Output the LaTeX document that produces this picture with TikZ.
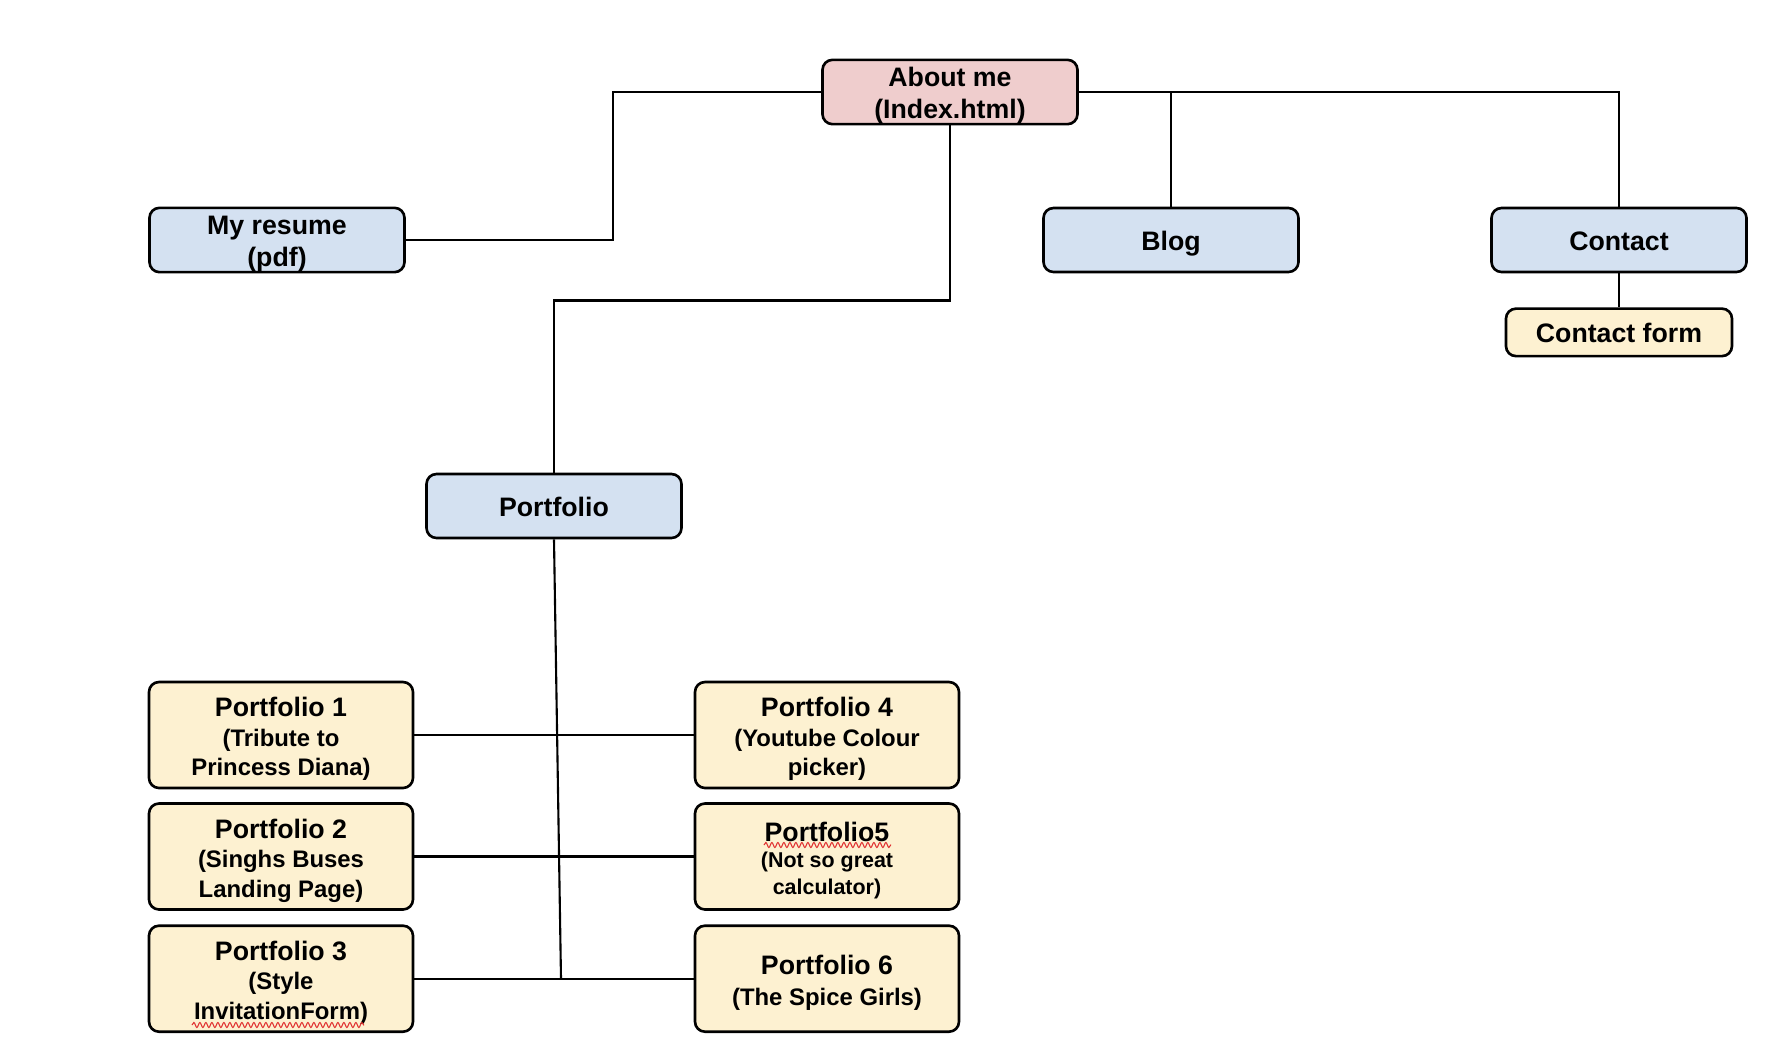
\documentclass[tikz,border=0pt]{standalone}
\usepackage{fontspec}
\setmainfont{Liberation Sans}
\usepackage{xcolor}
\usepackage{tikz}
\usetikzlibrary{positioning, decorations.pathmorphing}
\definecolor{colorHome}{HTML}{EFCDCD}
\definecolor{colorPage}{HTML}{D4E1F1}
\definecolor{colorSub}{HTML}{FDF1D1}
\definecolor{colorSpell}{HTML}{E03030}

\tikzset{
    pagebox/.style={draw=black, line width=0.75pt, rounded corners=0.1cm, align=center,
        minimum width=2.55cm, minimum height=0.64cm, inner xsep=1pt, inner ysep=0pt,
        font=\bfseries\fontsize{7.6}{9}\selectfont},
    homebox/.style={pagebox, fill=colorHome},
    menubox/.style={pagebox, fill=colorPage},
    workbox/.style={pagebox, fill=colorSub, minimum width=2.64cm, minimum height=1.06cm,
        font=\bfseries\fontsize{6.8}{8.4}\selectfont},
    link/.style={draw=black, line width=0.6pt},
    spell/.style={draw=colorSpell, line width=0.3pt,
        decorate, decoration={snake, amplitude=0.25mm, segment length=0.6mm}}
}
\newcommand{\pftitle}[1]{{\fontsize{7.6}{8.4}\selectfont #1}}
\newcommand{\boxtop}{\rule{0pt}{8.05pt}}
\newcommand{\worktop}{\rule{0pt}{8.7pt}}
\newcommand{\boxbot}{\rule[-2.3pt]{0pt}{0pt}}
\newcommand{\twotop}{\rule{0pt}{7.6pt}}
\newcommand{\twobot}{\rule[-1.7pt]{0pt}{0pt}}

\begin{document}
\begin{tikzpicture}
        \useasboundingbox (0,0) rectangle (17.74,-10.62);

        % top level pages
        \node[homebox] (about) at (9.50,-0.92) {\twotop About me\\(Index.html)\twobot};
        \node[menubox] (resume) at (2.77,-2.40) {\twotop My resume\\(pdf)\twobot};
        \node[menubox] (blog) at (11.71,-2.40) {\boxtop Blog\boxbot};
        \node[menubox] (contact) at (16.19,-2.40) {\boxtop Contact\boxbot};
        \node[pagebox, fill=colorSub, minimum width=2.26cm, minimum height=0.475cm,
            below=0.34cm of contact] (cform) {\boxtop Contact form\boxbot};
        \node[menubox] (portfolio) at (5.54,-5.06) {\boxtop Portfolio\boxbot};

        % portfolio pieces
        \node[workbox] (p1) at (2.81,-7.35) {\worktop\pftitle{Portfolio 1}\\(Tribute to\\Princess Diana)\boxbot};
        \node[workbox] (p2) at (2.81,-8.565) {\worktop\pftitle{Portfolio 2}\\(Singhs Buses\\Landing Page)\boxbot};
        \node[workbox] (p3) at (2.81,-9.787) {\worktop\pftitle{Portfolio 3}\\(Style\\InvitationForm)\boxbot};
        \node[workbox] (p4) at (8.27,-7.35) {\worktop\pftitle{Portfolio 4}\\(Youtube Colour\\picker)\boxbot};
        \node[workbox, font=\bfseries\fontsize{6.1}{7.6}\selectfont] (p5) at (8.27,-8.565)
            {\worktop{\fontsize{7.6}{8.6}\selectfont Portfolio5}\\(Not so great\\calculator)\boxbot};
        \node[workbox] (p6) at (8.27,-9.787) {\worktop\pftitle{Portfolio 6}\\[0.4pt](The Spice Girls)\boxbot};

        \coordinate (rbend) at (6.13,-0.92);
        \coordinate (hub) at (5.61,-9.787);

        % links
        \draw[link] (about.west) -- (rbend) |- (resume.east);
        \draw[link] (about.east) -| (contact.north);
        \draw[link] (blog.north) -- (blog.north |- about.east);
        \draw[link] (contact.south) -- (cform.north);
        \draw[link] (about.south) -- ++(0,-1.75) -| (portfolio.north);
        \draw[link] (portfolio.south) -- (hub);
        \draw[link] (p1.east) -- (p4.west);
        \draw[link] (p2.east) -- (p5.west);
        \draw[link] (p3.east) -- (hub) -- (p6.west);

        % spell check marks
        \draw[spell] (7.64,-8.45) -- (8.91,-8.45);
        \draw[spell] (1.92,-10.25) -- (3.64,-10.25);
    \end{tikzpicture}
\end{document}
